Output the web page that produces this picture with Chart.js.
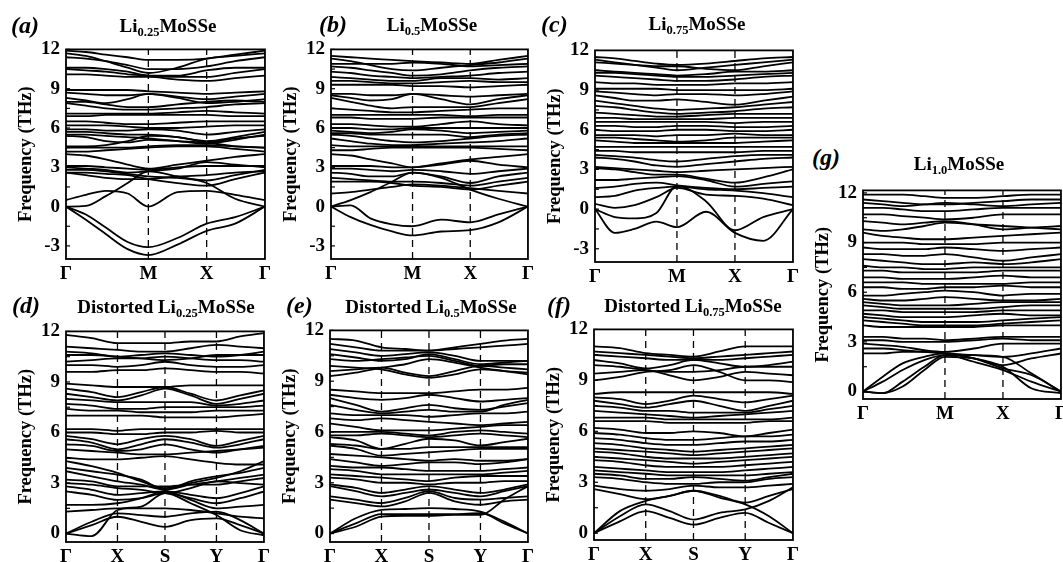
<!DOCTYPE html>
<html><head><meta charset="utf-8">
<script src="https://cdn.jsdelivr.net/npm/chart.js@4.4.0/dist/chart.umd.min.js"></script>
<style>
html,body{margin:0;padding:0;background:#fff;overflow:hidden;width:1063px;height:562px;}
#wrap{position:relative;width:1063px;height:562px;overflow:hidden;background:#fff;}
canvas{position:absolute;}
.ttl{position:absolute;font-family:'Liberation Serif','Times New Roman',serif;font-weight:bold;font-size:19px;white-space:nowrap;transform:translate(-50%,-50%);line-height:1;color:#000;}
.ttl sub{font-size:12.5px;vertical-align:-4px;line-height:0;}
.lt{position:absolute;font-family:'Liberation Serif','Times New Roman',serif;font-weight:bold;font-style:italic;font-size:24px;transform:translateY(-50%);line-height:1;color:#000;}
</style></head>
<body><div id="wrap"></div>
<script>
// ---------- data ----------
const kHex = [0, 0.1, 0.2, 0.31, 0.414, 0.56, 0.707, 0.85, 1.0];
const kRect = [0, 0.13, 0.26, 0.38, 0.5, 0.63, 0.76, 0.88, 1.0];
const hexSymPos = [0, 0.414, 0.707, 1];
const hexSymLabels = ['Γ', 'M', 'X', 'Γ'];
const rectSymPos = [0, 0.26, 0.5, 0.76, 1];
const rectSymLabels = ['Γ', 'X', 'S', 'Y', 'Γ'];
const yTicksTop = [12, 9, 6, 3, 0, -3];
const yTicksBottom = [12, 9, 6, 3, 0];
const yMinorStep = 1.5;

const bandsA = [
 [11.9,11.8,11.6,11.4,11.2,11.2,11.3,11.6,11.9],
 [11.7,11.5,11.1,10.6,10.2,10.6,11.3,11.5,11.7],
 [11.4,11.3,11.1,10.8,10.5,10.5,10.7,11.1,11.4],
 [10.6,10.6,10.5,10.3,10.0,10.0,10.4,10.6,10.6],
 [10.5,10.4,10.3,10.1,10.0,9.9,9.9,10.2,10.5],
 [10.1,10.1,10.0,9.9,9.9,9.7,9.6,9.8,10.0],
 [8.9,8.9,8.9,8.9,8.8,8.7,8.6,8.7,8.8],
 [8.7,8.6,8.5,8.5,8.6,8.4,8.2,8.4,8.6],
 [8.3,8.1,7.9,8.2,8.6,8.3,7.9,8.0,8.2],
 [8.0,8.0,7.8,7.6,7.6,7.8,8.0,8.1,8.0],
 [7.9,7.7,7.5,7.4,7.4,7.5,7.6,7.8,7.9],
 [7.1,7.1,7.1,7.1,7.1,7.2,7.3,7.2,7.1],
 [6.9,6.9,7.0,7.0,7.0,7.0,7.0,6.9,6.9],
 [6.5,6.5,6.4,6.3,6.3,6.4,6.5,6.5,6.5],
 [6.2,6.2,6.2,6.1,6.0,6.0,6.1,6.2,6.2],
 [5.9,5.9,5.8,5.8,5.9,5.8,5.5,5.7,5.9],
 [5.7,5.7,5.6,5.5,5.5,5.3,5.0,5.3,5.7],
 [5.5,5.5,5.4,5.3,5.2,5.0,4.8,5.1,5.5],
 [5.4,5.3,5.0,4.9,5.1,5.0,4.9,5.2,5.4],
 [4.6,4.6,4.7,5.0,5.4,5.3,4.9,4.6,4.5],
 [4.5,4.5,4.5,4.5,4.6,4.7,4.7,4.6,4.5],
 [4.2,4.2,4.3,4.4,4.5,4.6,4.6,4.4,4.2],
 [4.0,3.9,3.6,3.2,2.9,3.2,3.5,3.8,4.0],
 [3.1,3.1,3.0,2.9,2.8,3.0,3.1,3.1,3.1],
 [3.0,2.9,2.8,2.6,2.7,2.9,3.4,3.2,3.0],
 [2.8,2.8,2.7,2.5,2.3,2.2,2.0,2.4,2.8],
 [2.6,2.6,2.5,2.4,2.1,1.8,1.6,2.1,2.6],
 [2.6,2.4,2.2,2.1,2.1,2.3,2.4,2.6,2.7],
 [0.5,0.9,1.2,1.0,0.0,1.1,1.2,0.9,0.5],
 [0.0,0.05,0.8,1.8,2.7,2.3,1.8,0.6,0.0],
 [0.0,-0.6,-1.6,-2.7,-3.1,-2.4,-1.3,-0.8,0.0],
 [0.0,-1.0,-2.1,-3.25,-3.7,-2.9,-1.85,-1.3,0.0]
];

const bandsB = [
 [11.5,11.4,11.3,11.2,11.1,11.0,10.9,11.2,11.5],
 [11.3,11.1,10.8,10.5,10.4,10.6,10.8,11.0,11.3],
 [10.9,10.9,10.9,10.9,11.0,10.9,10.7,10.8,10.9],
 [10.7,10.6,10.4,10.2,10.0,10.1,10.4,10.6,10.7],
 [10.3,10.2,10.0,9.9,9.8,9.9,10.0,10.2,10.3],
 [9.9,9.8,9.7,9.6,9.6,9.8,9.8,9.7,9.8],
 [9.6,9.6,9.5,9.4,9.4,9.5,9.6,9.5,9.5],
 [9.3,9.3,9.3,9.3,9.2,9.2,9.1,9.2,9.3],
 [8.6,8.6,8.5,8.5,8.6,8.5,8.4,8.5,8.6],
 [8.5,8.3,8.1,8.2,8.6,8.2,7.8,8.2,8.5],
 [8.3,8.0,7.7,7.5,7.6,7.6,7.6,7.9,8.2],
 [7.5,7.4,7.3,7.2,7.2,7.3,7.4,7.5,7.5],
 [7.0,7.0,7.0,7.0,7.0,7.0,6.9,7.0,7.0],
 [6.8,6.8,6.7,6.7,6.7,6.8,6.8,6.8,6.8],
 [6.3,6.3,6.2,6.1,6.1,6.3,6.5,6.3,6.2],
 [6.0,6.0,5.9,5.9,6.0,6.0,6.0,6.0,6.0],
 [5.8,5.7,5.6,5.7,5.9,5.8,5.6,5.7,5.8],
 [5.6,5.6,5.5,5.5,5.5,5.5,5.3,5.5,5.6],
 [5.5,5.4,5.2,5.0,4.9,5.0,5.2,5.4,5.5],
 [5.2,5.0,4.8,4.7,4.7,4.8,4.9,5.0,5.2],
 [4.7,4.6,4.6,4.6,4.6,4.6,4.6,4.6,4.6],
 [4.3,4.3,4.4,4.5,4.5,4.5,4.5,4.4,4.3],
 [4.0,3.9,3.6,3.3,3.0,3.3,3.6,3.8,4.0],
 [3.1,3.1,3.1,3.0,3.0,3.2,3.5,3.2,3.0],
 [2.9,2.9,2.8,2.7,2.8,2.7,2.5,2.7,2.9],
 [2.6,2.5,2.3,2.3,2.6,2.3,1.8,2.3,2.6],
 [2.2,2.1,2.0,1.9,1.9,1.8,1.6,1.9,2.2],
 [1.9,1.9,1.9,1.8,1.6,1.5,1.3,1.6,1.9],
 [1.0,1.1,1.3,1.5,1.7,1.6,1.4,1.2,1.0],
 [0.0,0.5,1.1,1.9,2.6,2.2,1.3,0.6,0.0],
 [0.0,0.1,-0.9,-1.35,-1.5,-1.0,-1.2,-0.6,0.0],
 [0.0,-0.8,-1.4,-1.9,-2.2,-1.9,-1.8,-1.2,0.0]
];

const bandsC = [
 [11.5,11.4,11.2,11.0,10.9,11.0,11.2,11.4,11.5],
 [11.3,11.1,10.9,10.7,10.5,10.7,10.9,11.1,11.3],
 [11.1,11.0,10.9,10.8,10.8,10.6,10.5,10.8,11.1],
 [10.5,10.4,10.3,10.2,10.1,10.2,10.4,10.4,10.5],
 [10.3,10.3,10.2,10.1,10.0,10.0,10.1,10.2,10.3],
 [10.1,10.0,9.9,9.8,9.7,9.7,9.8,10.0,10.1],
 [9.6,9.5,9.5,9.4,9.4,9.4,9.5,9.5,9.6],
 [9.1,9.1,9.1,9.1,9.0,9.0,9.0,9.0,9.1],
 [8.9,8.8,8.7,8.6,8.7,8.7,8.6,8.7,8.9],
 [8.6,8.4,8.2,8.2,8.3,8.1,7.9,8.2,8.5],
 [8.2,8.0,7.8,7.6,7.5,7.6,7.7,7.9,8.1],
 [7.8,7.7,7.5,7.3,7.2,7.3,7.4,7.6,7.7],
 [7.3,7.2,7.1,7.0,7.0,7.1,7.2,7.2,7.2],
 [6.9,6.9,6.8,6.8,6.8,6.8,6.9,6.9,6.9],
 [6.6,6.6,6.6,6.6,6.6,6.6,6.5,6.6,6.6],
 [6.3,6.3,6.2,6.2,6.3,6.3,6.2,6.2,6.3],
 [6.0,5.9,5.9,5.9,6.0,6.0,5.9,5.9,6.0],
 [5.6,5.6,5.6,5.5,5.6,5.6,5.7,5.6,5.6],
 [5.4,5.4,5.3,5.2,5.1,5.2,5.4,5.4,5.4],
 [5.2,5.1,5.0,5.0,5.0,5.0,5.0,5.1,5.2],
 [4.7,4.7,4.7,4.7,4.7,4.7,4.7,4.7,4.7],
 [4.4,4.4,4.3,4.3,4.3,4.3,4.3,4.4,4.4],
 [4.1,4.0,3.9,3.7,3.6,3.8,4.0,4.1,4.1],
 [3.9,3.8,3.6,3.3,3.2,3.4,3.6,3.8,3.9],
 [3.2,3.1,3.0,2.9,2.8,2.9,3.0,3.1,3.2],
 [3.1,3.0,2.8,2.6,2.6,2.3,2.0,2.4,3.0],
 [2.2,2.2,2.3,2.4,2.5,2.2,1.7,1.9,2.1],
 [1.6,1.7,1.9,2.0,1.8,1.6,1.5,1.6,1.7],
 [0.9,1.0,1.4,1.6,1.7,1.5,1.4,1.2,0.9],
 [0.4,0.1,0.3,0.9,1.6,1.1,1.0,0.8,0.3],
 [0.0,-0.6,-0.7,-0.3,1.75,0.6,-1.6,-0.6,0.0],
 [0.0,-1.8,-1.5,-0.95,-1.37,-0.2,-1.8,-2.4,0.0]
];

const bandsD = [
 [11.8,11.6,11.3,11.3,11.3,11.4,11.4,11.7,11.9],
 [11.1,11.0,10.9,10.8,10.8,11.0,11.2,11.1,11.0],
 [10.8,10.7,10.5,10.6,10.7,10.6,10.5,10.6,10.8],
 [10.6,10.6,10.5,10.4,10.3,10.4,10.6,10.6,10.6],
 [10.2,10.3,10.4,10.4,10.5,10.4,10.3,10.3,10.2],
 [10.0,10.0,9.9,10.0,10.2,10.0,9.9,9.9,10.0],
 [9.6,9.6,9.7,9.7,9.8,9.7,9.6,9.6,9.5],
 [8.9,8.8,8.7,8.7,8.7,8.8,8.8,8.8,8.8],
 [8.6,8.4,8.1,8.4,8.7,8.3,7.9,8.2,8.5],
 [8.3,8.1,7.9,8.2,8.6,8.2,7.7,8.0,8.3],
 [8.0,7.9,7.8,7.8,7.8,7.8,7.6,7.7,7.9],
 [7.7,7.6,7.4,7.4,7.5,7.5,7.5,7.5,7.6],
 [7.4,7.3,7.3,7.2,7.2,7.2,7.3,7.3,7.3],
 [7.0,7.0,7.0,7.0,6.9,6.9,6.9,7.0,7.1],
 [6.2,6.2,6.1,6.2,6.2,6.2,6.2,6.2,6.2],
 [6.0,6.0,5.9,5.9,6.0,6.0,6.1,6.0,6.0],
 [5.8,5.6,5.3,5.6,5.8,5.6,5.2,5.5,5.8],
 [5.6,5.4,5.0,5.3,5.6,5.4,5.1,5.3,5.6],
 [5.3,5.2,4.9,5.0,5.3,5.0,4.8,5.0,5.2],
 [5.0,4.9,4.8,4.7,4.7,4.8,4.9,5.0,5.1],
 [4.5,4.4,4.4,4.5,4.6,4.4,4.2,4.1,4.1],
 [4.3,4.0,3.6,3.1,2.7,3.0,3.3,3.7,4.3],
 [3.9,3.7,3.5,3.2,2.6,3.1,3.4,3.6,3.9],
 [3.7,3.4,3.1,2.9,2.6,2.9,3.1,3.3,3.5],
 [3.2,3.1,2.8,2.8,2.8,2.9,2.9,3.1,3.3],
 [3.0,2.9,2.7,2.6,2.4,2.7,3.1,3.0,2.9],
 [2.8,2.6,2.3,2.4,2.5,2.3,2.1,2.4,2.8],
 [2.5,2.3,2.0,2.1,2.4,2.1,1.8,2.1,2.5],
 [1.7,1.7,1.8,2.1,2.5,2.0,1.5,1.6,1.7],
 [1.3,1.4,1.5,1.5,1.5,1.4,1.2,1.0,0.9],
 [0.0,0.7,1.2,1.1,1.0,1.2,1.3,0.8,0.0],
 [0.0,0.5,1.0,0.7,0.4,0.8,0.9,0.5,0.0],
 [0.0,-0.15,1.4,1.6,2.4,1.8,1.1,0.2,-0.1]
];

const bandsE = [
 [11.5,11.4,11.0,10.9,10.8,11.0,11.2,11.4,11.5],
 [11.2,11.0,10.8,10.8,10.8,10.9,11.0,11.1,11.2],
 [10.9,10.7,10.5,10.6,10.7,10.5,10.2,10.2,10.2],
 [10.6,10.4,10.2,10.3,10.6,10.3,10.0,10.1,10.2],
 [10.3,10.2,10.3,10.4,10.5,10.2,9.9,10.0,10.0],
 [9.9,9.8,9.7,9.4,9.2,9.4,9.7,9.6,9.5],
 [9.6,9.7,9.8,9.5,9.3,9.6,9.9,9.8,9.7],
 [9.3,9.5,9.8,10.0,10.3,10.1,9.8,9.6,9.4],
 [8.5,8.4,8.3,8.3,8.3,8.4,8.5,8.5,8.6],
 [8.2,8.0,7.9,8.0,8.2,8.0,7.8,7.9,8.0],
 [8.0,7.6,7.2,7.4,7.6,7.4,7.3,7.5,7.7],
 [7.6,7.3,7.1,7.2,7.3,7.2,7.2,7.6,7.9],
 [7.1,7.0,7.0,7.0,6.9,7.0,7.1,7.1,7.2],
 [6.8,6.7,6.8,6.7,6.6,6.5,6.4,6.5,6.6],
 [6.5,6.3,6.1,6.1,6.1,6.2,6.3,6.4,6.4],
 [6.0,6.0,6.0,5.9,5.8,6.0,6.1,6.0,5.9],
 [5.8,5.8,5.9,5.8,5.7,5.8,5.9,5.8,5.7],
 [5.7,5.5,5.0,5.3,5.6,5.5,5.2,5.4,5.6],
 [5.3,5.2,5.0,5.0,5.1,5.1,5.1,5.1,5.1],
 [5.2,5.0,4.6,4.7,4.8,4.9,5.0,5.0,5.0],
 [4.7,4.6,4.5,4.4,4.3,4.4,4.3,4.3,4.4],
 [4.4,4.2,4.0,4.1,4.2,4.2,4.1,4.2,4.4],
 [4.0,3.9,3.9,3.8,3.7,3.7,3.7,3.8,3.9],
 [3.8,3.7,3.5,3.5,3.5,3.5,3.5,3.6,3.7],
 [3.5,3.4,3.3,3.2,3.1,3.3,3.4,3.4,3.4],
 [3.3,3.2,3.0,3.0,2.9,3.0,3.0,3.1,3.1],
 [2.9,2.7,2.4,2.6,2.8,2.6,2.4,2.6,2.9],
 [2.8,2.5,2.2,2.4,2.6,2.4,2.2,2.5,2.8],
 [2.2,2.0,1.8,2.1,2.5,2.1,2.0,2.1,2.2],
 [2.0,1.8,1.6,1.9,2.4,1.9,1.7,1.9,2.0],
 [0.0,0.9,1.4,1.45,1.5,1.45,1.3,0.7,0.0],
 [0.0,0.6,1.15,1.15,1.15,1.15,1.2,0.6,0.0],
 [0.0,0.4,1.0,1.05,1.05,1.1,1.1,2.0,2.8]
];

const bandsF = [
 [11.0,10.9,10.6,10.5,10.4,10.7,11.0,11.0,11.0],
 [10.7,10.6,10.5,10.4,10.3,10.4,10.5,10.6,10.7],
 [10.5,10.4,10.3,10.2,10.2,10.2,10.3,10.4,10.5],
 [10.2,10.0,9.7,9.9,10.2,10.0,9.8,9.9,10.1],
 [9.9,9.8,9.6,9.5,9.5,9.6,9.8,9.8,9.8],
 [9.4,9.5,9.6,9.3,9.0,9.2,9.5,9.4,9.3],
 [9.0,9.2,9.5,9.6,9.9,9.5,9.0,9.0,8.9],
 [8.2,8.3,8.3,8.3,8.3,8.3,8.3,8.3,8.2],
 [8.0,7.9,7.6,7.8,8.1,7.9,7.7,7.9,8.1],
 [7.8,7.6,7.4,7.6,7.8,7.5,7.2,7.5,7.8],
 [7.5,7.4,7.2,7.2,7.1,7.1,7.1,7.3,7.5],
 [7.2,7.1,7.0,6.9,6.8,6.9,7.0,7.1,7.2],
 [6.8,6.8,6.8,6.7,6.7,6.7,6.7,6.7,6.8],
 [6.6,6.6,6.6,6.5,6.5,6.5,6.5,6.6,6.6],
 [6.2,6.1,5.9,5.9,6.0,5.9,5.7,5.9,6.1],
 [5.9,5.8,5.6,5.5,5.5,5.6,5.7,5.7,5.8],
 [5.6,5.5,5.3,5.2,5.2,5.3,5.4,5.4,5.5],
 [5.3,5.2,5.0,4.9,4.8,4.9,5.0,5.1,5.2],
 [5.0,4.9,4.8,4.7,4.6,4.7,4.8,4.9,5.0],
 [4.8,4.7,4.5,4.4,4.4,4.4,4.5,4.6,4.7],
 [4.5,4.4,4.3,4.2,4.1,4.2,4.3,4.4,4.5],
 [4.3,4.2,4.0,3.9,3.9,3.9,4.0,4.1,4.2],
 [3.9,3.8,3.7,3.6,3.6,3.6,3.7,3.8,3.9],
 [3.7,3.6,3.5,3.4,3.4,3.4,3.4,3.5,3.6],
 [3.5,3.4,3.2,3.2,3.3,3.2,3.1,3.3,3.5],
 [3.3,3.2,3.0,2.9,2.9,3.0,3.0,3.2,3.3],
 [2.8,2.6,2.5,2.6,2.8,2.7,2.7,2.8,2.9],
 [2.6,2.3,2.0,2.2,2.5,2.2,1.8,2.2,2.6],
 [0.0,1.3,1.9,2.2,2.5,2.1,1.7,1.0,0.0],
 [0.0,1.0,1.7,1.3,0.8,1.2,1.4,1.9,2.7],
 [0.0,0.7,1.3,0.9,0.5,0.9,1.2,0.6,0.0]
];

const bandsG = [
 [11.9,11.9,11.9,11.8,11.7,11.7,11.8,11.9,11.9],
 [11.6,11.5,11.4,11.3,11.3,11.4,11.5,11.6,11.6],
 [11.4,11.3,11.2,11.3,11.4,11.3,11.2,11.3,11.4],
 [11.1,11.1,11.0,10.9,10.9,11.0,11.1,11.1,11.1],
 [10.7,10.7,10.6,10.5,10.4,10.5,10.7,10.7,10.7],
 [10.3,10.2,10.1,10.2,10.3,10.1,9.8,9.9,10.0],
 [9.8,9.7,9.8,10.0,10.2,10.1,10.0,9.9,9.8],
 [9.6,9.4,9.3,9.2,9.2,9.3,9.4,9.5,9.6],
 [9.0,9.0,9.0,8.9,8.9,8.9,9.0,9.0,9.0],
 [8.7,8.6,8.6,8.6,8.7,8.6,8.5,8.6,8.7],
 [8.3,8.3,8.2,8.2,8.3,8.1,7.9,8.1,8.3],
 [8.0,7.9,7.8,7.7,7.7,7.8,7.7,7.8,8.0],
 [7.6,7.5,7.5,7.4,7.4,7.5,7.5,7.5,7.5],
 [7.3,7.3,7.2,7.2,7.2,7.2,7.3,7.3,7.3],
 [6.9,6.9,6.8,6.8,6.8,6.9,7.0,6.9,6.9],
 [6.6,6.6,6.6,6.5,6.5,6.5,6.5,6.6,6.6],
 [6.3,6.3,6.2,6.2,6.3,6.3,6.4,6.3,6.3],
 [5.8,5.8,5.9,6.0,6.1,6.0,5.8,5.9,5.9],
 [5.6,5.5,5.5,5.6,5.7,5.6,5.5,5.5,5.6],
 [5.4,5.3,5.2,5.2,5.2,5.3,5.4,5.4,5.4],
 [5.2,5.1,5.0,5.0,5.0,5.0,5.1,5.2,5.2],
 [4.9,4.9,4.8,4.8,4.8,4.8,4.9,4.9,4.9],
 [4.7,4.6,4.5,4.5,4.5,4.6,4.7,4.6,4.6],
 [4.5,4.4,4.3,4.2,4.2,4.2,4.3,4.4,4.5],
 [4.3,4.2,4.1,4.0,4.0,4.0,4.1,4.2,4.3],
 [4.0,3.9,3.9,3.9,3.9,3.9,4.0,4.0,4.0],
 [3.3,3.3,3.2,3.2,3.1,3.2,3.3,3.3,3.3],
 [3.1,3.1,3.0,3.0,3.0,3.1,3.2,3.1,3.1],
 [2.9,2.8,2.7,2.5,2.4,2.6,2.9,2.9,2.9],
 [2.6,2.6,2.5,2.4,2.3,2.2,2.1,2.3,2.6],
 [2.3,2.3,2.4,2.4,2.3,2.0,1.6,2.0,2.3],
 [0.0,0.9,1.7,2.1,2.3,2.0,1.4,1.0,0.0],
 [0.0,0.6,1.3,1.9,2.2,1.8,1.3,0.6,0.0],
 [0.0,-0.1,0.6,1.5,2.2,2.2,2.1,1.1,0.0],
 [0.0,-0.1,0.3,1.3,2.1,2.0,1.5,0.2,-0.1]
];

// ---------- layout ----------
const FONT = "'Liberation Serif','Times New Roman',serif";
const panels = [
 {letter:'(a)', title:'Li<sub>0.25</sub>MoSSe', box:[66,42,265,259], ymin:-4, ymax:12, yt:yTicksTop, kind:'hex', bands:bandsA, lp:[11,25], tp:[168,25]},
 {letter:'(b)', title:'Li<sub>0.5</sub>MoSSe', box:[331,42,528,259], ymin:-4, ymax:12, yt:yTicksTop, kind:'hex', bands:bandsB, lp:[319,24], tp:[432,24]},
 {letter:'(c)', title:'Li<sub>0.75</sub>MoSSe', box:[595,43,793,262], ymin:-4, ymax:12, yt:yTicksTop, kind:'hex', bands:bandsC, lp:[541,24], tp:[697,23]},
 {letter:'(d)', title:'Distorted Li<sub>0.25</sub>MoSSe', box:[66,324,264,542], ymin:-0.5, ymax:12, yt:yTicksBottom, kind:'rect', bands:bandsD, lp:[12,305], tp:[166,306]},
 {letter:'(e)', title:'Distorted Li<sub>0.5</sub>MoSSe', box:[330,323,528,542], ymin:-0.5, ymax:12, yt:yTicksBottom, kind:'rect', bands:bandsE, lp:[286,305], tp:[431,306]},
 {letter:'(f)', title:'Distorted Li<sub>0.75</sub>MoSSe', box:[594,322,793,540], ymin:-0.4, ymax:12, yt:yTicksBottom, kind:'rect', bands:bandsF, lp:[547,305], tp:[693,305]},
 {letter:'(g)', title:'Li<sub>1.0</sub>MoSSe', box:[863,183,1061,399], ymin:-0.45, ymax:12.15, yt:yTicksBottom, kind:'hex', bands:bandsG, lp:[812,157], tp:[959,163]}
];

const wrap = document.getElementById('wrap');
const AXW = 52, PADT = 10, PADR = 10, XAH = 30;

const framePlugin = {
  id: 'frame',
  afterDraw(chart) {
    const {ctx, chartArea: a, scales} = chart;
    const y = scales.y;
    ctx.save();
    ctx.strokeStyle = '#000';
    ctx.lineWidth = 1.8;
    ctx.strokeRect(a.left, a.top, a.right - a.left, a.bottom - a.top);
    ctx.lineWidth = 1.2;
    const start = Math.ceil(y.min / yMinorStep) * yMinorStep;
    for (let v = start; v <= y.max + 1e-9; v += yMinorStep) {
      const py = y.getPixelForValue(v);
      ctx.beginPath(); ctx.moveTo(a.left, py); ctx.lineTo(a.left + 4, py); ctx.stroke();
    }
    ctx.restore();
  }
};

panels.forEach(p => {
  const [L, T, R, B] = p.box;
  const cl = L - AXW, ct = T - PADT, cw = R + PADR - cl, ch = B + XAH - ct;
  const canvas = document.createElement('canvas');
  canvas.width = cw; canvas.height = ch;
  canvas.style.left = cl + 'px'; canvas.style.top = ct + 'px';
  canvas.style.width = cw + 'px'; canvas.style.height = ch + 'px';
  wrap.appendChild(canvas);

  const lt = document.createElement('div');
  lt.className = 'lt'; lt.textContent = p.letter;
  lt.style.left = p.lp[0] + 'px'; lt.style.top = p.lp[1] + 'px';
  wrap.appendChild(lt);
  const tt = document.createElement('div');
  tt.className = 'ttl'; tt.innerHTML = p.title;
  tt.style.left = p.tp[0] + 'px'; tt.style.top = p.tp[1] + 'px';
  wrap.appendChild(tt);

  const k = p.kind === 'hex' ? kHex : kRect;
  const symPos = p.kind === 'hex' ? hexSymPos : rectSymPos;
  const symLab = p.kind === 'hex' ? hexSymLabels : rectSymLabels;

  const datasets = p.bands.map(b => ({
    data: k.map((x, i) => ({x: x, y: b[i]})),
    borderColor: '#000', borderWidth: 1.8, pointRadius: 0,
    cubicInterpolationMode: 'monotone', fill: false
  }));
  symPos.slice(1, -1).forEach(x => datasets.push({
    data: [{x: x, y: p.ymin}, {x: x, y: p.ymax}],
    borderColor: '#000', borderWidth: 1.3, borderDash: [7, 5], pointRadius: 0, fill: false
  }));

  new Chart(canvas, {
    type: 'line',
    data: {datasets},
    plugins: [framePlugin],
    options: {
      responsive: false, animation: false, devicePixelRatio: 1,
      layout: {padding: {top: PADT, right: PADR, left: 0, bottom: 0}},
      plugins: {legend: {display: false}, tooltip: {enabled: false}},
      scales: {
        x: {
          type: 'linear', min: 0, max: 1,
          grid: {display: false, drawTicks: false}, border: {display: false},
          afterBuildTicks: s => { s.ticks = symPos.map(v => ({value: v})); },
          afterFit: s => { s.height = XAH; },
          ticks: {padding: 4, color: '#000', autoSkip: false, maxRotation: 0,
            font: {family: FONT, size: 19, weight: 'bold'},
            callback: (v, i) => symLab[i]}
        },
        y: {
          type: 'linear', min: p.ymin, max: p.ymax,
          grid: {display: false, drawTicks: false}, border: {display: false},
          afterBuildTicks: s => { s.ticks = p.yt.map(v => ({value: v})); },
          afterFit: s => { s.width = AXW; },
          ticks: {padding: 6, color: '#000', font: {family: FONT, size: 19, weight: 'bold'}},
          title: {display: true, text: 'Frequency (THz)', color: '#000', padding: {top: 1, bottom: 0},
            font: {family: FONT, size: 18.5, weight: 'bold'}}
        }
      }
    }
  });
});
</script></body></html>
